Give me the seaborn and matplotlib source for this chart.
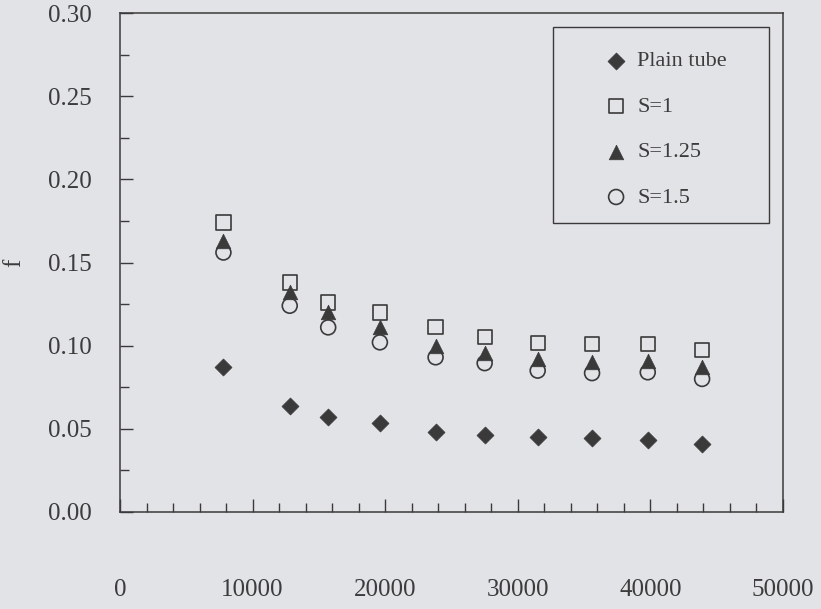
import matplotlib
matplotlib.use("Agg")
import matplotlib.pyplot as plt
from matplotlib.patches import Rectangle
from matplotlib.ticker import MultipleLocator
import seaborn as sns
import pandas as pd

# ---- data ----
re_values = [7800, 12800, 15700, 19600, 23800, 27500, 31500, 35600, 39800, 43900]
f_plain = [0.087, 0.064, 0.057, 0.0535, 0.048, 0.046, 0.045, 0.0445, 0.043, 0.041]
f_s1 = [0.174, 0.138, 0.126, 0.120, 0.111, 0.105, 0.1015, 0.101, 0.101, 0.0975]
f_s125 = [0.163, 0.132, 0.120, 0.111, 0.100, 0.0955, 0.092, 0.090, 0.091, 0.087]
f_s15 = [0.156, 0.124, 0.111, 0.102, 0.093, 0.0895, 0.085, 0.0835, 0.084, 0.080]
series_labels = ["Plain tube", "S=1", "S=1.25", "S=1.5"]
x_ticks = [0, 10000, 20000, 30000, 40000, 50000]
y_ticks = [0.00, 0.05, 0.10, 0.15, 0.20, 0.25, 0.30]

BG = "#e2e3e7"
DARK = "#3a3a3a"
TEXT = "#3c3c3c"

sns.set_theme(style="ticks")
plt.rcParams["font.family"] = ["Liberation Serif", "DejaVu Serif"]

fig = plt.figure(figsize=(8.21, 6.09), dpi=100, facecolor=BG)
ax = fig.add_axes([120 / 821, 1 - 512 / 609, 663 / 821, 499 / 609])
ax.set_facecolor(BG)

df = pd.DataFrame({"Re": re_values, "plain": f_plain, "s1": f_s1,
                   "s125": f_s125, "s15": f_s15})

sns.scatterplot(data=df, x="Re", y="plain", marker="D", s=75, color=DARK,
                edgecolor=DARK, linewidth=0.5, label=series_labels[0], ax=ax, zorder=3)
sns.scatterplot(data=df, x="Re", y="s1", marker="s", s=105, color=DARK,
                facecolor="none", edgecolor=DARK, linewidth=1.2,
                label=series_labels[1], ax=ax, zorder=3)
sns.scatterplot(data=df, x="Re", y="s125", marker="^", s=110, color=DARK,
                edgecolor=DARK, linewidth=0.5, label=series_labels[2], ax=ax, zorder=4)
sns.scatterplot(data=df, x="Re", y="s15", marker="o", s=115, color=DARK,
                facecolor="none", edgecolor=DARK, linewidth=1.2,
                label=series_labels[3], ax=ax, zorder=3)

ax.set_xlim(0, 50000)
ax.set_ylim(0, 0.30)
ax.set_xticks(x_ticks)
ax.set_xticklabels([str(v) for v in x_ticks])
ax.set_yticks(y_ticks)
ax.set_yticklabels([f"{v:.2f}" for v in y_ticks])
ax.xaxis.set_minor_locator(MultipleLocator(2000))
ax.yaxis.set_minor_locator(MultipleLocator(0.025))

ax.tick_params(axis="both", which="both", direction="in", colors=DARK,
               labelcolor=TEXT, labelsize=18, width=1.0)
ax.tick_params(axis="both", which="major", length=9.5)
ax.tick_params(axis="both", which="minor", length=6.5)
ax.tick_params(axis="y", which="major", pad=20)
ax.tick_params(axis="x", which="major", pad=48)
ax.tick_params(top=False, right=False, which="both")

for sp in ax.spines.values():
    sp.set_color(DARK)
    sp.set_linewidth(1.1)

ax.set_xlabel("")
ax.set_ylabel("f", fontsize=18, color=TEXT)
ax.yaxis.set_label_coords(-0.1425, 0.5)

# legend frame
ax.add_patch(Rectangle((0.653, 0.579), 0.979 - 0.653, 0.972 - 0.579,
                       transform=ax.transAxes, fill=False, edgecolor=DARK,
                       linewidth=1.0, zorder=5))
leg = ax.legend(loc="upper left", bbox_to_anchor=(0.7315, 0.924),
                borderaxespad=0, borderpad=0, frameon=False, fontsize=16,
                handlelength=1.0, handletextpad=0.45, labelspacing=1.12,
                labelcolor=TEXT)

fig.savefig("out.png", dpi=100, facecolor=BG)
